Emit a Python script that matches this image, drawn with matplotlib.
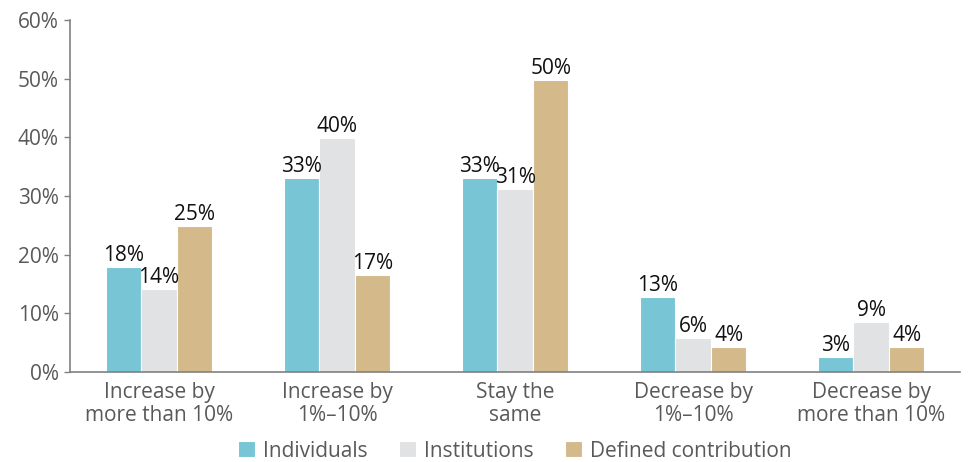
import matplotlib
matplotlib.use('Agg')
import matplotlib.pyplot as plt
import numpy as np

# kategori ba utguud
categories = ["Increase by\nmore than 10%", "Increase by\n1%\u201310%", "Stay the\nsame",
              "Decrease by\n1%\u201310%", "Decrease by\nmore than 10%"]
individuals = [17.8, 33.1, 33.1, 12.8, 2.5]
institutions = [14.1, 39.8, 31.2, 5.7, 8.5]
defined_contribution = [24.9, 16.5, 49.8, 4.2, 4.2]
ind_labels = ["18%", "33%", "33%", "13%", "3%"]
inst_labels = ["14%", "40%", "31%", "6%", "9%"]
dc_labels = ["25%", "17%", "50%", "4%", "4%"]

plt.rcParams['font.family'] = ['Open Sans', 'DejaVu Sans']

fig = plt.figure(figsize=(9.77, 4.62), dpi=100)
ax = fig.add_axes([0.0717, 0.195, 0.911, 0.762])

x = np.arange(len(categories))
w = 0.2
series = [
    (individuals, ind_labels, "#77C5D5", "Individuals"),
    (institutions, inst_labels, "#E1E2E4", "Institutions"),
    (defined_contribution, dc_labels, "#D4BA8A", "Defined contribution"),
]
for i, (vals, labs, col, name) in enumerate(series):
    bars = ax.bar(x + (i - 1) * w, vals, w, color=col, label=name,
                  edgecolor="white", linewidth=0.8)
    for b, lab in zip(bars, labs):
        ax.text(b.get_x() + b.get_width() / 2, b.get_height() + 0.2, lab,
                ha="center", va="bottom", fontsize=15, color="#111111")

ax.set_ylim(0, 60)
ax.set_xlim(-0.5, 4.5)
ax.set_yticks(range(0, 61, 10))
ax.set_yticklabels([f"{v}%" for v in range(0, 61, 10)])
ax.set_xticks(x)
ax.set_xticklabels(categories, linespacing=1.15)
ax.tick_params(axis="x", length=0, labelsize=15, labelcolor="#595959", pad=7)
ax.tick_params(axis="y", length=4, width=1, color="#808080", labelsize=15,
               labelcolor="#595959", pad=4)
for s in ["top", "right"]:
    ax.spines[s].set_visible(False)
for s in ["left", "bottom"]:
    ax.spines[s].set_color("#808080")
    ax.spines[s].set_linewidth(1.2)

leg = ax.legend(loc="center", bbox_to_anchor=(0.5, -0.225), ncol=3,
                frameon=False, fontsize=15, handlelength=0.8, handleheight=0.8,
                handletextpad=0.4, columnspacing=1.5, borderaxespad=0,
                borderpad=0)
for t in leg.get_texts():
    t.set_color("#595959")

fig.savefig("out.png", dpi=100)
